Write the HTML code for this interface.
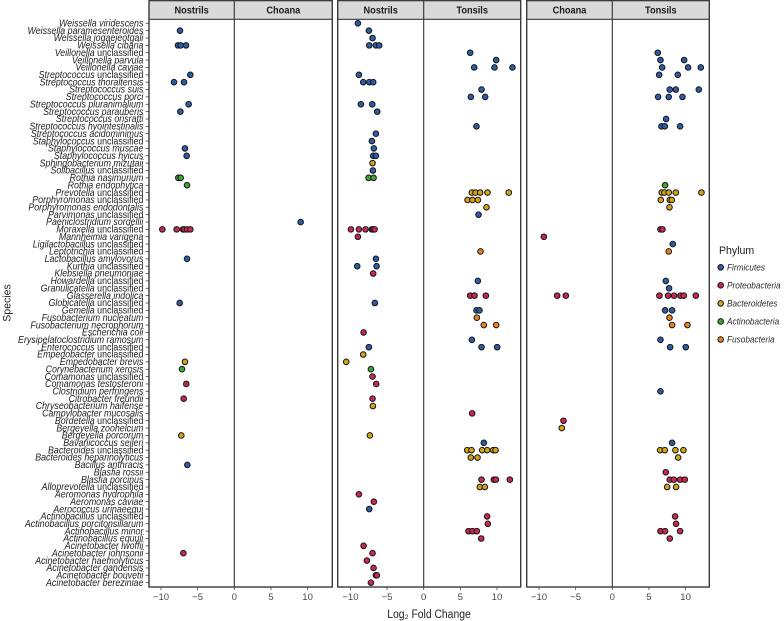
<!DOCTYPE html>
<html>
<head>
<meta charset="utf-8">
<title>Log2 fold change by species</title>
<style>
html,body{margin:0;padding:0;background:#fff;width:784px;height:621px;overflow:hidden}
svg{display:block;font-family:"Liberation Sans",sans-serif}
</style>
</head>
<body>
<svg id="chart" width="784" height="621" viewBox="0 0 784 621" xmlns="http://www.w3.org/2000/svg"></svg>
<script>
// Species, top to bottom
const species = ["Weissella viridescens","Weissella paramesenteroides","Weissella jogaejeotgali","Weissella cibaria","Veillonella unclassified","Veillonella parvula","Veillonella caviae","Streptococcus unclassified","Streptococcus thoraltensis","Streptococcus suis","Streptococcus porci","Streptococcus pluranimalium","Streptococcus parauberis","Streptococcus orisratti","Streptococcus hyointestinalis","Streptococcus acidominimus","Staphylococcus unclassified","Staphylococcus muscae","Staphylococcus hyicus","Sphingobacterium mizutaii","Solibacillus unclassified","Rothia nasimurium","Rothia endophytica","Prevotella unclassified","Porphyromonas unclassified","Porphyromonas endodontalis","Parvimonas unclassified","Paeniclostridium sordellii","Moraxella unclassified","Mannheimia varigena","Ligilactobacillus unclassified","Leptotrichia unclassified","Lactobacillus amylovorus","Kurthia unclassified","Klebsiella pneumoniae","Howardella unclassified","Granulicatella unclassified","Glasserella indolica","Globicatella unclassified","Gemella unclassified","Fusobacterium nucleatum","Fusobacterium necrophorum","Escherichia coli","Erysipelatoclostridium ramosum","Enterococcus unclassified","Empedobacter unclassified","Empedobacter brevis","Corynebacterium xerosis","Comamonas unclassified","Comamonas testosteroni","Clostridium perfringens","Citrobacter freundii","Chryseobacterium haifense","Campylobacter mucosalis","Bordetella unclassified","Bergeyella zoohelcum","Bergeyella porcorum","Bavariicoccus seileri","Bacteroides unclassified","Bacteroides heparinolyticus","Bacillus anthracis","Blasfia rossii","Blasfia porcinus","Alloprevotella unclassified","Aeromonas hydrophila","Aeromonas caviae","Aerococcus urinaeequi","Actinobacillus unclassified","Actinobacillus porcitonsillarum","Actinobacillus minor","Actinobacillus equuli","Acinetobacter lwoffii","Acinetobacter johnsonii","Acinetobacter haemolyticus","Acinetobacter gandensis","Acinetobacter bouvetii","Acinetobacter bereziniae"];
const phyla = ["Firmicutes","Proteobacteria","Bacteroidetes","Actinobacteria","Fusobacteria"];
const phylumColors = ["#2b5da8","#c9294f","#d3a414","#3da636","#f0821c"];
const xTicks = [-10,-5,0,5,10];
// Each entry: [species number (1 = top row), phylum index, log2 fold changes...]
const leftNostrils = [[2,0,-7.41],[4,0,-7.68,-7.32,-6.59],[8,0,-6.0],[9,0,-8.23,-6.86],[12,0,-6.23],[13,0,-7.36],[18,0,-6.73],[19,0,-6.5],[22,3,-7.64,-7.32],[23,3,-6.45],[29,1,-9.82,-7.86,-7.0,-6.82,-6.45,-6.0],[33,0,-6.45],[39,0,-7.45],[47,2,-6.73],[48,3,-7.14],[50,1,-6.55],[52,1,-6.9],[57,2,-7.23],[61,0,-6.41],[73,1,-6.95]];
const leftChoana = [[28,0,9.05]];
const middleNostrils = [[1,0,-8.98],[2,0,-7.48],[3,0,-6.98],[4,0,-7.43,-6.52,-6.07],[8,0,-8.84],[9,0,-8.25,-7.43,-6.89],[12,0,-8.57,-7.02],[13,0,-6.34],[16,0,-6.52],[17,0,-7.07],[18,0,-6.8],[19,0,-6.89,-6.52],[20,2,-6.98],[21,0,-6.93],[22,3,-7.52,-6.84],[29,1,-9.93,-8.84,-7.93,-7.07,-6.89,-6.7],[30,1,-8.98],[33,0,-6.52],[34,0,-9.07,-6.43],[35,1,-6.89],[39,0,-6.66],[43,1,-8.2],[45,0,-7.48],[46,2,-8.25],[47,2,-10.57],[48,3,-7.2],[49,1,-6.98],[50,1,-6.48],[52,1,-6.98],[53,2,-6.93],[57,2,-7.34],[65,1,-8.84],[66,1,-6.8],[67,0,-7.43],[72,1,-8.2],[73,1,-6.98],[74,1,-7.75],[75,1,-6.84],[76,1,-6.52,-6.39],[77,1,-7.2]];
const middleTonsils = [[5,0,6.34],[6,0,9.89],[7,0,6.89,9.66,12.11],[10,0,7.89],[11,0,6.43,8.39],[15,0,7.2],[24,2,6.57,7.07,7.7,8.7,11.61],[25,2,5.98,6.66,7.39],[26,2,8.57],[27,0,7.48],[32,4,7.75],[36,0,7.39],[38,1,6.34,6.93,8.48],[40,0,7.2,7.61],[41,4,7.25],[42,4,8.2,9.89],[44,0,6.57],[45,0,7.89,10.02],[54,1,6.61],[58,0,8.2],[59,2,5.93,6.52,7.98,8.66,9.48,9.8],[60,2,6.43,7.34],[63,1,7.89,9.57,9.84,11.75],[64,2,7.66,8.34],[68,1,8.66],[69,1,8.75],[70,1,6.11,6.66,7.25],[71,1,7.84]];
const rightChoana = [[30,1,-9.34],[38,1,-7.52,-6.34],[55,1,-6.66],[56,2,-6.89]];
const rightTonsils = [[5,0,6.2],[6,0,6.57,9.8],[7,0,6.8,10.34,12.07],[8,0,6.39,8.93],[10,0,7.84,8.66,11.8],[11,0,6.25,7.7,9.57],[14,0,7.34],[15,0,6.7,7.16,9.25],[23,3,7.2],[24,2,6.75,7.11,7.7,8.66,12.16],[25,2,6.61,7.84,8.11],[26,2,7.8],[29,1,6.57,6.84],[31,0,8.25],[32,4,7.7],[36,0,7.3],[37,0,7.75],[38,1,6.43,7.61,8.43,9.3,9.75,11.39],[40,0,7.2,8.16],[41,4,7.8],[42,4,8.16,10.25],[44,0,6.57],[45,0,7.89,10.02],[51,0,6.57],[58,0,8.16],[59,2,6.52,7.16,8.61,9.7],[60,2,8.98],[62,1,7.3],[63,1,7.84,8.39,9.25,9.89],[64,2,7.48,8.7],[68,1,8.57],[69,1,8.7],[70,1,6.57,7.2,9.25],[71,1,7.84]];

// Facet layout
const groups = [
  {id:"left", zero:234.3, left:149, right:332.3, leftTitle:"Nostrils", rightTitle:"Choana", leftData:leftNostrils, rightData:leftChoana},
  {id:"middle", zero:423.7, left:337.7, right:520.7, leftTitle:"Nostrils", rightTitle:"Tonsils", leftData:middleNostrils, rightData:middleTonsils},
  {id:"right", zero:612.3, left:526.7, right:709.3, leftTitle:"Choana", rightTitle:"Tonsils", leftData:rightChoana, rightData:rightTonsils}
];
const pxPerUnit = 7.33, plotTop = 19.5, plotBottom = 587;
const firstRowY = 23.3, rowStep = 7.36;
const xScale = (g, v) => g.zero + v * pxPerUnit;
const yScale = row => firstRowY + (row - 1) * rowStep;

const svg = document.getElementById("chart");
const NS = "http://www.w3.org/2000/svg";
function make(tag, attrs, text){
  const el = document.createElementNS(NS, tag);
  for (const k in attrs) el.setAttribute(k, attrs[k]);
  if (text !== undefined) el.textContent = text;
  svg.appendChild(el);
  return el;
}
function slug(s){ return s.toLowerCase().replace(/[^a-z0-9]+/g, "-"); }

// Species tick labels and ticks
species.forEach((name, i) => {
  const y = yScale(i + 1);
  const tick = make("line", {x1:145.7, x2:149, y1:y, y2:y, stroke:"#444", "stroke-width":0.8});
  
  
  const label = make("text", {transform:`translate(143.4,${y + 3.2}) scale(0.885,1)`, "text-anchor":"end", "font-size":10, fill:"#222"});
  
  
  const unclassified = / unclassified$/.test(name);
  const italicPart = document.createElementNS(NS, "tspan");
  italicPart.setAttribute("font-style", "italic");
  italicPart.textContent = unclassified ? name.replace(/ unclassified$/, "") : name;
  label.appendChild(italicPart);
  if (unclassified) {
    const plainPart = document.createElementNS(NS, "tspan");
    plainPart.textContent = " unclassified";
    label.appendChild(plainPart);
  }
});

// Facets
groups.forEach(g => {
  const headerBg = make("rect", {x:g.left, y:0.6, width:g.right - g.left, height:18.9, fill:"#d9d9d9", stroke:"none"});
  
  

  const leftHead = make("text", {transform:`translate(${(g.left + g.zero) / 2},13.3) scale(0.88,1)`, "text-anchor":"middle", "font-size":10.5, "font-weight":"bold", fill:"#1a1a1a"}, g.leftTitle);
  
  
  const rightHead = make("text", {transform:`translate(${(g.zero + g.right) / 2},13.3) scale(0.88,1)`, "text-anchor":"middle", "font-size":10.5, "font-weight":"bold", fill:"#1a1a1a"}, g.rightTitle);
  
  

  const frame = make("rect", {x:g.left, y:0.6, width:g.right - g.left, height:plotBottom - 0.6, fill:"none", stroke:"#3a3a3a", "stroke-width":1.4});
  
  
  const headRule = make("line", {x1:g.left, x2:g.right, y1:19.3, y2:19.3, stroke:"#3a3a3a", "stroke-width":1.1});
  
  
  const divider = make("line", {x1:g.zero, x2:g.zero, y1:0.6, y2:plotBottom, stroke:"#333", "stroke-width":1.1});
  
  

  xTicks.forEach(t => {
    const x = xScale(g, t);
    const tick = make("line", {x1:x, x2:x, y1:plotBottom, y2:plotBottom + 3, stroke:"#444", "stroke-width":0.8});
    
    
    const lab = make("text", {x:x, y:600, "text-anchor":"middle", "font-size":9.6, fill:"#4a4a4a"}, t < 0 ? "\u2212" + Math.abs(t) : String(t));
    
    
  });

  [g.leftData, g.rightData].forEach((series, side) => {
    const facet = side === 0 ? g.leftTitle : g.rightTitle;
    series.forEach(entry => {
      const row = entry[0], phylum = entry[1];
      entry.slice(2).forEach(v => {
        const dot = make("circle", {cx:xScale(g, v), cy:yScale(row), r:2.8, fill:phylumColors[phylum], stroke:"#151515", "stroke-width":1});
        
        
      });
    });
  });
});

// Axis titles
const yTitle = make("text", {transform:"translate(10.5,303) rotate(-90) scale(0.92,1)", "text-anchor":"middle", "font-size":11.5, fill:"#222"}, "Species");


const xTitle = make("text", {transform:"translate(429,618) scale(0.9,1)", "text-anchor":"middle", "font-size":11.5, fill:"#222"}, "Log\u2082 Fold Change");



// Legend
const legendTitle = make("text", {transform:"translate(719,254) scale(0.92,1)", "font-size":11.5, fill:"#222"}, "Phylum");


phyla.forEach((p, i) => {
  const y = 267.3 + i * 18.05;
  const key = make("circle", {cx:720.7, cy:y, r:2.8, fill:phylumColors[i], stroke:"#151515", "stroke-width":1});
  
  
  const lab = make("text", {transform:`translate(727,${y + 3.2}) scale(0.86,1)`, "font-size":9.6, "font-style":"italic", fill:"#2a2a2a"}, p);
  
  
});
</script>
</body>
</html>
